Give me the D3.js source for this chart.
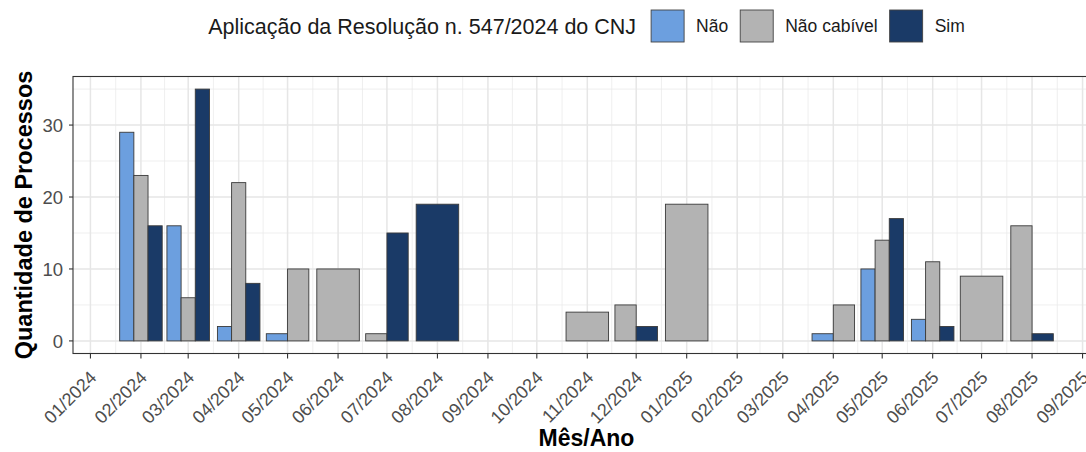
<!DOCTYPE html>
<html>
<head>
<meta charset="utf-8">
<script src="https://cdn.jsdelivr.net/npm/d3@7"></script>
<style>
  body { margin: 0; background: #fff; }
  text { font-family: "Liberation Sans", Arial, sans-serif; }
</style>
</head>
<body>
<script>
// months (year-month) and counts per category
var months = ["2024-02", "2024-03", "2024-04", "2024-05", "2024-06", "2024-07", "2024-08",
              "2024-11", "2024-12", "2025-01", "2025-04", "2025-05", "2025-06", "2025-07", "2025-08"];
var categories = ["Não", "Não cabível", "Sim"];
var nao        = [29, 16, 2, 1, null, null, null, null, null, null, 1, 10, 3, null, null];
var naoCabivel = [23, 6, 22, 10, 10, 1, null, 4, 5, 19, 5, 14, 11, 9, 16];
var sim        = [16, 35, 8, null, null, 15, 19, null, 2, null, null, 17, 2, null, 1];
var colors = ["#6c9fdf", "#b3b3b3", "#1a3a67"];

var width = 1086, height = 452;
var panel = {left: 73, right: 1100, top: 76.5, bottom: 353.5};

var parse = d3.timeParse("%Y-%m");
var day = 864e5;
var barDays = 0.9 * 29;

// build long table
var series = [nao, naoCabivel, sim];
var groups = months.map((m, i) => {
    let bars = [];
    series.forEach((s, k) => { if (s[i] != null) bars.push({cat: k, value: s[i]}); });
    return {date: parse(m), bars: bars};
});

var dMin = +groups[0].date - barDays / 2 * day,
    dMax = +groups[groups.length - 1].date + barDays / 2 * day,
    pad = (dMax - dMin) * 0.05;

var x = d3.scaleTime()
    .domain([new Date(dMin - pad), new Date(dMax + pad)])
    .range([panel.left, panel.right]);

var yMax = 35;
var y = d3.scaleLinear()
    .domain([-yMax * 0.05, yMax * 1.05])
    .range([panel.bottom, panel.top]);

var svg = d3.select("body").append("svg")
    .attr("width", width)
    .attr("height", height);

// grid
var grid = svg.append("g");
var majorX = d3.timeMonth.range(new Date(2024, 0, 1), new Date(2025, 9, 1));
var minorX = majorX.map(d => new Date(+d + (+d3.timeMonth.offset(d, 1) - d) / 2));
grid.selectAll(".mx").data(minorX).join("line")
    .attr("x1", d => x(d)).attr("x2", d => x(d))
    .attr("y1", panel.top).attr("y2", panel.bottom)
    .attr("stroke", "#ebebeb").attr("stroke-width", 0.8);
grid.selectAll(".my").data([5, 15, 25, 35]).join("line")
    .attr("x1", panel.left).attr("x2", panel.right)
    .attr("y1", d => y(d)).attr("y2", d => y(d))
    .attr("stroke", "#ebebeb").attr("stroke-width", 0.8);
grid.selectAll(".Mx").data(majorX).join("line")
    .attr("x1", d => x(d)).attr("x2", d => x(d))
    .attr("y1", panel.top).attr("y2", panel.bottom)
    .attr("stroke", "#e6e6e6").attr("stroke-width", 1.5);
grid.selectAll(".My").data([0, 10, 20, 30]).join("line")
    .attr("x1", panel.left).attr("x2", panel.right)
    .attr("y1", d => y(d)).attr("y2", d => y(d))
    .attr("stroke", "#e6e6e6").attr("stroke-width", 1.5);

// bars
var bw = x(new Date(barDays * day)) - x(new Date(0));
var gBars = svg.append("g");
groups.forEach(g => {
    let n = g.bars.length, w = bw / n, x0 = x(g.date) - bw / 2;
    gBars.selectAll(null).data(g.bars).join("rect")
        .attr("x", (d, i) => x0 + i * w)
        .attr("width", w)
        .attr("y", d => y(d.value))
        .attr("height", d => y(0) - y(d.value))
        .attr("fill", d => colors[d.cat])
        .attr("stroke", "#3a3a3a")
        .attr("stroke-width", 0.9);
});

// panel border
svg.append("rect")
    .attr("x", panel.left).attr("y", panel.top)
    .attr("width", panel.right - panel.left).attr("height", panel.bottom - panel.top)
    .attr("fill", "none").attr("stroke", "#333").attr("stroke-width", 1.1);

// y axis
var yAxis = svg.append("g");
[0, 10, 20, 30].forEach(v => {
    yAxis.append("line")
        .attr("x1", panel.left - 4).attr("x2", panel.left)
        .attr("y1", y(v)).attr("y2", y(v))
        .attr("stroke", "#333").attr("stroke-width", 1.1);
    yAxis.append("text")
        .attr("x", panel.left - 10).attr("y", y(v))
        .attr("dy", "0.36em").attr("text-anchor", "end")
        .attr("font-size", 18.5).attr("fill", "#4d4d4d")
        .text(v);
});

// x axis
var fmt = d3.timeFormat("%m/%Y");
var xAxis = svg.append("g");
majorX.forEach(d => {
    let xx = x(d);
    xAxis.append("line")
        .attr("x1", xx).attr("x2", xx)
        .attr("y1", panel.bottom).attr("y2", panel.bottom + 5)
        .attr("stroke", "#333").attr("stroke-width", 1.1);
    xAxis.append("text")
        .attr("transform", "translate(" + (xx - 2) + "," + (panel.bottom + 16) + ") rotate(-45)")
        .attr("text-anchor", "end").attr("dy", "0.72em")
        .attr("font-size", 18).attr("fill", "#4d4d4d")
        .text(fmt(d));
});

// axis titles
var cx = (panel.left + panel.right) / 2;
svg.append("text")
    .attr("x", cx).attr("y", 446)
    .attr("text-anchor", "middle")
    .attr("font-size", 23).attr("font-weight", "bold")
    .text("Mês/Ano");
svg.append("text")
    .attr("transform", "translate(32," + (panel.top + panel.bottom) / 2 + ") rotate(-90)")
    .attr("text-anchor", "middle")
    .attr("font-size", 23.5).attr("font-weight", "bold")
    .text("Quantidade de Processos");

// legend
var legend = svg.append("g");
var title = legend.append("text")
    .attr("x", 0).attr("y", 26).attr("dy", "0.35em")
    .attr("font-size", 21.5).attr("fill", "#1a1a1a")
    .text("Aplicação da Resolução n. 547/2024 do CNJ");
var lx = title.node().getComputedTextLength() + 15;
categories.forEach((c, i) => {
    legend.append("rect")
        .attr("x", lx).attr("y", 10).attr("width", 33).attr("height", 32)
        .attr("fill", colors[i]).attr("stroke", "#444").attr("stroke-width", 0.9);
    let t = legend.append("text")
        .attr("x", lx + 45).attr("y", 26).attr("dy", "0.35em")
        .attr("font-size", 17.5).attr("fill", "#1a1a1a")
        .text(c);
    lx += 45 + t.node().getComputedTextLength() + 12;
});
var lw = lx - 12;
legend.attr("transform", "translate(" + (cx - lw / 2) + ",0)");
</script>
</body>
</html>
